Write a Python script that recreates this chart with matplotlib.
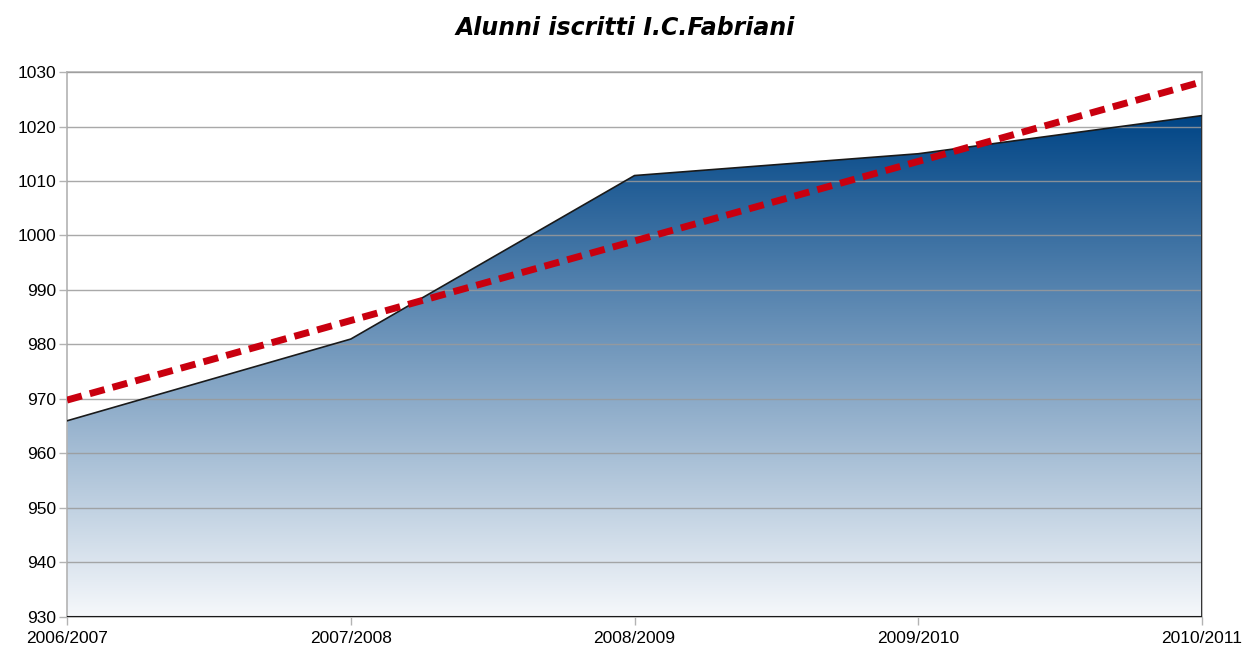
import numpy as np
import matplotlib.pyplot as plt
from matplotlib.colors import LinearSegmentedColormap

# data
anni = ['2006/2007', '2007/2008', '2008/2009', '2009/2010', '2010/2011']
alunni = [966, 981, 1011, 1015, 1022]
tendenza = [969.8, 1028.2]  # linear trend, first and last school year

plt.rcParams['font.family'] = ['Liberation Sans', 'DejaVu Sans']

fig = plt.figure(figsize=(12.51, 6.54), dpi=100)
ax = fig.add_axes([0.0536, 0.0566, 0.9072, 0.8333])

x = np.arange(len(anni))
ymin, ymax = 930, 1030

# gradient fill clipped to the area
poly = ax.fill_between(x, alunni, ymin, facecolor='none', edgecolor='none')
cmap = LinearSegmentedColormap.from_list('blu', ['#f6f8fb', '#004586'])
grad = np.linspace(0, 1, 256).reshape(-1, 1)
img = ax.imshow(grad, cmap=cmap, origin='lower', aspect='auto',
	extent=[x[0], x[-1], ymin, max(alunni)], zorder=1)
path = poly.get_paths()[0]
img.set_clip_path(path, transform=ax.transData)
ax.plot(x, alunni, color='#1a1a1a', lw=1.2, zorder=3)
ax.plot([x[-1], x[-1]], [ymin, alunni[-1]], color='#1a1a1a', lw=1.2, zorder=3)
ax.plot([x[0], x[-1]], [ymin, ymin], color='#1a1a1a', lw=1.5, zorder=3)

# trend line
ax.plot([x[0], x[-1]], tendenza, color='#c9000f', lw=5, ls=(0, (2.2, 1.2)), zorder=4, solid_capstyle='butt')

ax.set_xlim(x[0], x[-1])
ax.set_ylim(ymin, ymax)
ax.set_yticks(np.arange(930, 1031, 10))
ax.set_xticks(x)
ax.set_xticklabels(anni)
ax.grid(axis='y', color='#9a9a9a', lw=1, zorder=2, alpha=0.85)
ax.set_axisbelow(False)
for s in ax.spines.values():
	s.set_color('#b3b3b3')
	s.set_linewidth(1.2)
	s.set_zorder(2)
ax.tick_params(axis='both', colors='#b3b3b3', length=6, width=1, labelcolor='black', labelsize=12.5)
ax.tick_params(axis='x', pad=4)
ax.tick_params(axis='y', pad=2)

fig.suptitle('Alunni iscritti I.C.Fabriani', x=0.5, y=0.975, fontsize=17,
	fontweight='bold', fontstyle='italic', family='DejaVu Sans')

plt.savefig('out.png', dpi=100)
